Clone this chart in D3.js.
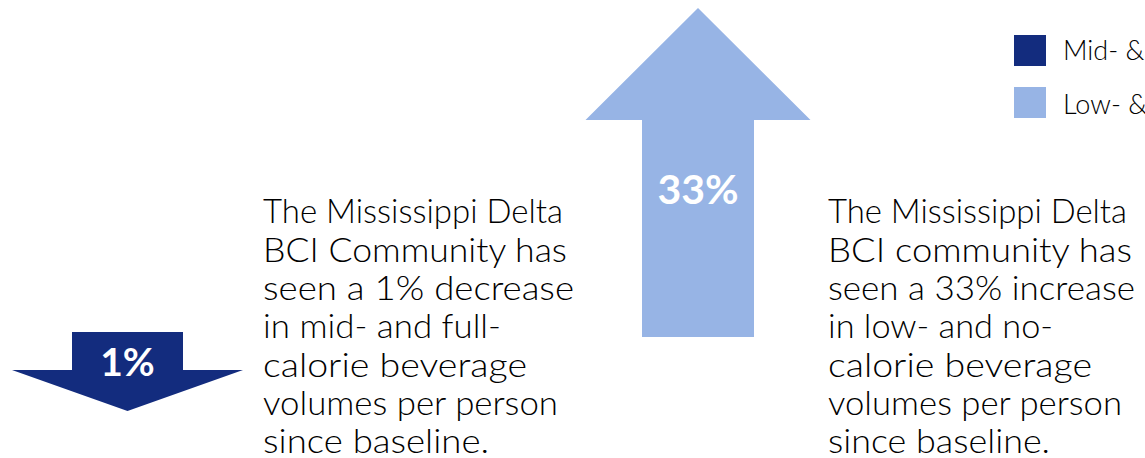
<!DOCTYPE html>
<html>
<head>
<meta charset="utf-8">
<script src="https://cdn.jsdelivr.net/npm/d3@7"></script>
<style>
  html, body { margin: 0; padding: 0; background: #fff; overflow: hidden; }
  svg { display: block; }
</style>
</head>
<body>
<svg id="chart" width="1145" height="458"></svg>
<script>
// Beverage volume change per person since baseline
const categories = ["Mid- & Full-Calorie Beverages", "Low- & No-Calorie Beverages"];
const changes = [-1, 33];
const colors = ["#132C7E", "#97B4E5"];
const descriptions = [
  ["The Mississippi Delta", "BCI Community has", "seen a 1% decrease", "in mid- and full-",
   "calorie beverage", "volumes per person", "since baseline."],
  ["The Mississippi Delta", "BCI community has", "seen a 33% increase", "in low- and no-",
   "calorie beverage", "volumes per person", "since baseline."]
];

const svg = d3.select("#chart");
const bodyFont = "Lato, 'Noto Sans', 'DejaVu Sans', sans-serif";

// Arrow layout: centre x, shaft/head half widths, and vertical extents
const arrowLayout = [
  { cx: 127.5, shaft: 55.5, head: 115.5, base: 332, neck: 370, tip: 411, labelY: 376, labelSize: 39 },
  { cx: 698,   shaft: 56,   head: 112.5, base: 337, neck: 120, tip: 8,   labelY: 204, labelSize: 41 }
];

const line = d3.line();
function arrowPoints(a) {
  return [
    [a.cx - a.shaft, a.base], [a.cx + a.shaft, a.base],
    [a.cx + a.shaft, a.neck], [a.cx + a.head, a.neck],
    [a.cx, a.tip],
    [a.cx - a.head, a.neck], [a.cx - a.shaft, a.neck]
  ];
}

const arrows = svg.append("g").selectAll("g")
  .data(changes)
  .join("g");

arrows.append("path")
  .attr("d", (d, i) => line(arrowPoints(arrowLayout[i])) + "Z")
  .attr("fill", (d, i) => colors[i]);

arrows.append("text")
  .attr("x", (d, i) => arrowLayout[i].cx)
  .attr("y", (d, i) => arrowLayout[i].labelY)
  .attr("text-anchor", "middle")
  .attr("font-family", bodyFont)
  .attr("font-weight", "bold")
  .attr("font-size", (d, i) => arrowLayout[i].labelSize)
  .attr("fill", "#fff")
  .text(d => Math.abs(d) + "%");

// Description blocks beside each arrow; each line set to its column width
const blockLayout = [
  { x: 263, widths: [300, 304, 311, 238, 264, 295, 226] },
  { x: 828, widths: [299, 304, 307, 225, 264, 294, 222] }
];
const firstBaseline = 223.3, lineStep = 38.3;

const blocks = svg.append("g").selectAll("text")
  .data(descriptions)
  .join("text")
  .attr("transform", (d, i) => `translate(${blockLayout[i].x},0)`)
  .attr("font-family", bodyFont)
  .attr("font-weight", 300)
  .attr("font-size", 33)
  .attr("fill", "#000");

blocks.each(function(lines, i) {
  d3.select(this).selectAll("tspan")
    .data(lines)
    .join("tspan")
    .attr("x", 0)
    .attr("y", (d, j) => firstBaseline + j * lineStep)
    .attr("textLength", (d, j) => blockLayout[i].widths[j])
    .attr("lengthAdjust", "spacingAndGlyphs")
    .text(d => d);
});

// Legend
const legend = svg.append("g").selectAll("g")
  .data(categories)
  .join("g")
  .attr("transform", (d, i) => `translate(1014,${[35, 87][i]})`);

legend.append("rect")
  .attr("width", 32)
  .attr("height", 31)
  .attr("fill", (d, i) => colors[i]);

legend.append("text")
  .attr("x", 49)
  .attr("y", (d, i) => [25, 27][i])
  .attr("font-family", bodyFont)
  .attr("font-weight", 300)
  .attr("font-size", 27)
  .attr("fill", "#000")
  .text(d => d);
</script>
</body>
</html>
